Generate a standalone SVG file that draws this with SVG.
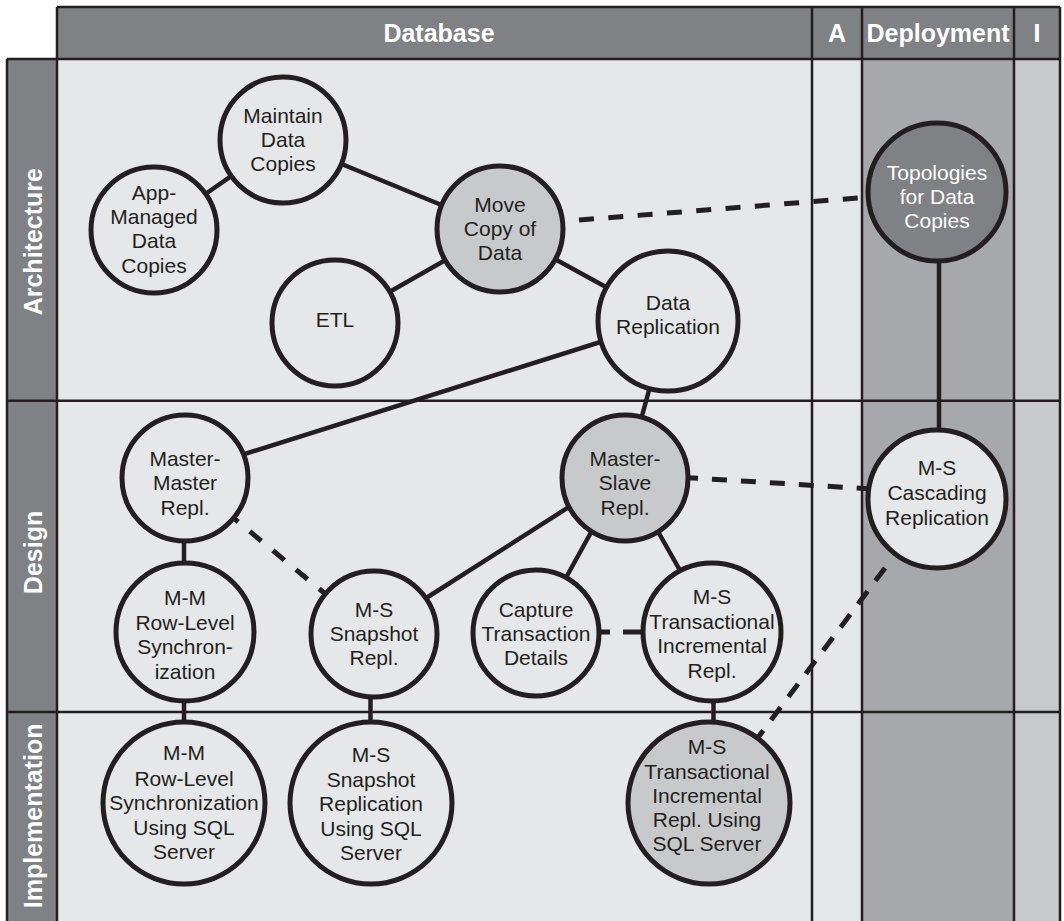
<svg xmlns="http://www.w3.org/2000/svg" width="1064" height="921" viewBox="0 0 1064 921">
  <style>
    .grid { stroke: #231f20; stroke-width: 2.5; fill: none; }
    .hdr { fill: #808184; }
    .cell { fill: #e6e7e8; }
    .dep { fill: #a7a8ab; }
    .impl { fill: #c8c9cb; }
    .htxt { font-family: "Liberation Sans", Arial, Helvetica, sans-serif; font-weight: bold; font-size: 25px; fill: #ffffff; text-anchor: middle; }
    .node circle { stroke: #231f20; stroke-width: 5; }
    .light circle { fill: #e6e7e8; }
    .mid circle { fill: #c8c9cb; }
    .dark circle { fill: #808184; }
    .node text { font-family: "Liberation Sans", Arial, Helvetica, sans-serif; font-size: 21px; fill: #231f20; text-anchor: middle; }
    .dark text { fill: #ffffff; }
    .solid { stroke: #231f20; stroke-width: 4.5; fill: none; }
    .dash { stroke: #231f20; stroke-width: 5; fill: none; }
  </style>

  <!-- Swimlane grid -->
  <g id="grid">
    <rect class="hdr" x="57" y="7" width="1003" height="52"/>
    <rect class="hdr" x="7" y="59" width="50" height="870"/>
    <rect class="cell" x="57" y="59" width="805" height="870"/>
    <rect class="dep" x="862" y="59" width="152" height="870"/>
    <rect class="impl" x="1014" y="59" width="46" height="870"/>
    <path class="grid" d="M57 7 H1060 M7 59 H1060 M7 400.7 H1060 M7 712 H1060"/>
    <path class="grid" d="M7 59 V925 M57 7 V925 M812 7 V925 M862 7 V925 M1014 7 V925 M1060 7 V925"/>
    <text class="htxt" x="439" y="42">Database</text>
    <text class="htxt" x="837" y="42">A</text>
    <text class="htxt" x="938" y="42">Deployment</text>
    <text class="htxt" x="1037" y="42">I</text>
    <text class="htxt" transform="translate(41.5,241.7) rotate(-90)">Architecture</text>
    <text class="htxt" transform="translate(41.5,552.5) rotate(-90)">Design</text>
    <text class="htxt" transform="translate(41.5,815.8) rotate(-90)">Implementation</text>
  </g>

  <!-- Connectors -->
  <g id="connectors">
    <line class="solid" x1="154" y1="230" x2="283" y2="140"/>
    <line class="solid" x1="283" y1="140" x2="500" y2="229"/>
    <line class="solid" x1="500" y1="229" x2="335" y2="323"/>
    <line class="solid" x1="500" y1="229" x2="668" y2="321"/>
    <line class="solid" x1="235" y1="457" x2="610" y2="339"/>
    <line class="solid" x1="668" y1="321" x2="625" y2="478"/>
    <line class="solid" x1="939" y1="250" x2="939" y2="440"/>
    <line class="solid" x1="184" y1="478" x2="184" y2="632"/>
    <line class="solid" x1="184" y1="632" x2="184" y2="803"/>
    <line class="solid" x1="420" y1="602" x2="572" y2="505"/>
    <line class="solid" x1="594" y1="527" x2="563" y2="583"/>
    <line class="solid" x1="656" y1="528" x2="682" y2="574"/>
    <line class="solid" x1="370.5" y1="690" x2="370.5" y2="725"/>
    <line class="solid" x1="713.5" y1="695" x2="713.5" y2="725"/>
    <line class="dash" x1="579" y1="220" x2="858" y2="198" stroke-dasharray="15 14.4"/>
    <line class="dash" x1="233.6" y1="518" x2="325.4" y2="594" stroke-dasharray="15 15" stroke-dashoffset="9"/>
    <line class="dash" x1="688" y1="477.7" x2="868" y2="488.7" stroke-dasharray="15 14" stroke-dashoffset="5"/>
    <line class="dash" x1="599" y1="632" x2="643" y2="632" stroke-dasharray="11 13 30"/>
    <line class="dash" x1="885" y1="568" x2="757.6" y2="738" stroke-dasharray="16 13"/>
  </g>

  <!-- Nodes -->
  <g id="n-maintain" class="node light">
    <circle cx="283" cy="140" r="63"/>
    <text x="283" y="123">Maintain</text>
    <text x="283" y="147">Data</text>
    <text x="283" y="171">Copies</text>
  </g>
  <g id="n-app-managed" class="node light">
    <circle cx="154" cy="230" r="63"/>
    <text x="154" y="200">App-</text>
    <text x="154" y="224">Managed</text>
    <text x="154" y="248">Data</text>
    <text x="154" y="272.7">Copies</text>
  </g>
  <g id="n-move-copy" class="node mid">
    <circle cx="500" cy="229" r="63"/>
    <text x="500" y="212">Move</text>
    <text x="500" y="236">Copy of</text>
    <text x="500" y="260">Data</text>
  </g>
  <g id="n-etl" class="node light">
    <circle cx="335" cy="323" r="63"/>
    <text x="335" y="327">ETL</text>
  </g>
  <g id="n-data-replication" class="node light">
    <circle cx="668" cy="321" r="70"/>
    <text x="668" y="310">Data</text>
    <text x="668" y="333.5">Replication</text>
  </g>
  <g id="n-topologies" class="node dark">
    <circle cx="937" cy="192" r="69"/>
    <text x="937" y="180">Topologies</text>
    <text x="937" y="204">for Data</text>
    <text x="937" y="228">Copies</text>
  </g>
  <g id="n-master-master" class="node light">
    <circle cx="185" cy="478" r="63"/>
    <text x="185" y="466">Master-</text>
    <text x="185" y="490">Master</text>
    <text x="185" y="515">Repl.</text>
  </g>
  <g id="n-master-slave" class="node mid">
    <circle cx="625" cy="478" r="63"/>
    <text x="625" y="466">Master-</text>
    <text x="625" y="490">Slave</text>
    <text x="625" y="515">Repl.</text>
  </g>
  <g id="n-cascading" class="node light">
    <circle cx="937" cy="499" r="69"/>
    <text x="937" y="475">M-S</text>
    <text x="937" y="500">Cascading</text>
    <text x="937" y="525">Replication</text>
  </g>
  <g id="n-mm-row-level" class="node light">
    <circle cx="185" cy="632" r="69"/>
    <text x="185" y="605">M-M</text>
    <text x="185" y="630">Row-Level</text>
    <text x="185" y="654">Synchron-</text>
    <text x="185" y="678.5">ization</text>
  </g>
  <g id="n-ms-snapshot" class="node light">
    <circle cx="374" cy="634" r="63"/>
    <text x="374" y="616.5">M-S</text>
    <text x="374" y="640.5">Snapshot</text>
    <text x="374" y="665">Repl.</text>
  </g>
  <g id="n-capture" class="node light">
    <circle cx="536" cy="633" r="63"/>
    <text x="536" y="616.5">Capture</text>
    <text x="536" y="640.5">Transaction</text>
    <text x="536" y="665">Details</text>
  </g>
  <g id="n-ms-transactional" class="node light">
    <circle cx="712" cy="632" r="69"/>
    <text x="712" y="603.5">M-S</text>
    <text x="712" y="628.5">Transactional</text>
    <text x="712" y="653">Incremental</text>
    <text x="712" y="677.5">Repl.</text>
  </g>
  <g id="n-mm-row-level-sql" class="node light">
    <circle cx="184" cy="803" r="81"/>
    <text x="184" y="760">M-M</text>
    <text x="184" y="786">Row-Level</text>
    <text x="184" y="810">Synchronization</text>
    <text x="184" y="835">Using SQL</text>
    <text x="184" y="859">Server</text>
  </g>
  <g id="n-ms-snapshot-sql" class="node light">
    <circle cx="371" cy="803" r="81"/>
    <text x="371" y="762">M-S</text>
    <text x="371" y="787">Snapshot</text>
    <text x="371" y="811">Replication</text>
    <text x="371" y="835.5">Using SQL</text>
    <text x="371" y="860">Server</text>
  </g>
  <g id="n-ms-transactional-sql" class="node mid">
    <circle cx="709" cy="803" r="81"/>
    <text x="707" y="753.5">M-S</text>
    <text x="707" y="778.5">Transactional</text>
    <text x="707" y="802.7">Incremental</text>
    <text x="707" y="827">Repl. Using</text>
    <text x="707" y="851">SQL Server</text>
  </g>
</svg>
